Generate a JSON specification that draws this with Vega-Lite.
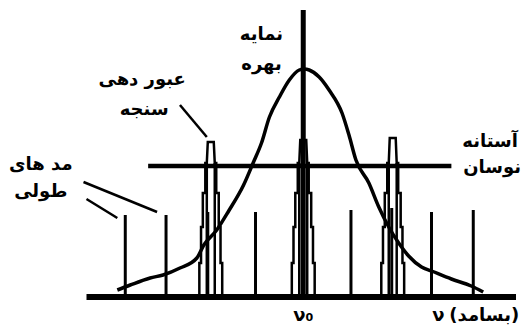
{
  "$schema": "https://vega.github.io/schema/vega-lite/v6.json",
  "width": 521,
  "height": 327,
  "autosize": {"type": "fit", "contains": "padding"},
  "padding": 0,
  "background": "white",
  "config": {"view": {"stroke": null}},
  "datasets": {
    "gain": [
      {"x": -187, "y": 7}, {"x": -174, "y": 12}, {"x": -154, "y": 19}, {"x": -141, "y": 22},
      {"x": -124, "y": 29}, {"x": -107, "y": 39}, {"x": -100, "y": 52}, {"x": -87, "y": 67},
      {"x": -75, "y": 86}, {"x": -60, "y": 112}, {"x": -50, "y": 135}, {"x": -42, "y": 154},
      {"x": -34, "y": 180}, {"x": -24, "y": 200}, {"x": -14, "y": 217}, {"x": -4, "y": 227},
      {"x": 1, "y": 228}, {"x": 6, "y": 227}, {"x": 16, "y": 220}, {"x": 26, "y": 207},
      {"x": 39, "y": 184}, {"x": 46, "y": 162}, {"x": 53, "y": 137}, {"x": 66, "y": 114},
      {"x": 76, "y": 90}, {"x": 86, "y": 70}, {"x": 96, "y": 54}, {"x": 106, "y": 41},
      {"x": 119, "y": 30}, {"x": 129, "y": 26}, {"x": 149, "y": 18}, {"x": 169, "y": 11},
      {"x": 181, "y": 5}
    ],
    "peaks": [
      {"p": "L", "o": 1, "x": -104.5, "y": 0}, {"p": "L", "o": 2, "x": -104.5, "y": 34},
      {"p": "L", "o": 3, "x": -102.8, "y": 34}, {"p": "L", "o": 4, "x": -102.8, "y": 70},
      {"p": "L", "o": 5, "x": -101, "y": 70}, {"p": "L", "o": 6, "x": -101, "y": 104},
      {"p": "L", "o": 7, "x": -98.5, "y": 104}, {"p": "L", "o": 8, "x": -98.5, "y": 134},
      {"p": "L", "o": 9, "x": -97, "y": 134}, {"p": "L", "o": 10, "x": -96, "y": 155},
      {"p": "L", "o": 11, "x": -90, "y": 155}, {"p": "L", "o": 12, "x": -89, "y": 134},
      {"p": "L", "o": 13, "x": -87.5, "y": 134}, {"p": "L", "o": 14, "x": -87.5, "y": 104},
      {"p": "L", "o": 15, "x": -85, "y": 104}, {"p": "L", "o": 16, "x": -85, "y": 70},
      {"p": "L", "o": 17, "x": -83.2, "y": 70}, {"p": "L", "o": 18, "x": -83.2, "y": 34},
      {"p": "L", "o": 19, "x": -81.5, "y": 34}, {"p": "L", "o": 20, "x": -81.5, "y": 0},
      {"p": "C", "o": 1, "x": -11.5, "y": 0}, {"p": "C", "o": 2, "x": -11.5, "y": 34},
      {"p": "C", "o": 3, "x": -9.8, "y": 34}, {"p": "C", "o": 4, "x": -9.8, "y": 70},
      {"p": "C", "o": 5, "x": -8, "y": 70}, {"p": "C", "o": 6, "x": -8, "y": 104},
      {"p": "C", "o": 7, "x": -5.5, "y": 104}, {"p": "C", "o": 8, "x": -5.5, "y": 134},
      {"p": "C", "o": 9, "x": -4, "y": 134}, {"p": "C", "o": 10, "x": -3, "y": 157},
      {"p": "C", "o": 11, "x": 3, "y": 157}, {"p": "C", "o": 12, "x": 4, "y": 134},
      {"p": "C", "o": 13, "x": 5.5, "y": 134}, {"p": "C", "o": 14, "x": 5.5, "y": 104},
      {"p": "C", "o": 15, "x": 8, "y": 104}, {"p": "C", "o": 16, "x": 8, "y": 70},
      {"p": "C", "o": 17, "x": 9.8, "y": 70}, {"p": "C", "o": 18, "x": 9.8, "y": 34},
      {"p": "C", "o": 19, "x": 11.5, "y": 34}, {"p": "C", "o": 20, "x": 11.5, "y": 0},
      {"p": "R", "o": 1, "x": 78.5, "y": 0}, {"p": "R", "o": 2, "x": 78.5, "y": 34},
      {"p": "R", "o": 3, "x": 80.2, "y": 34}, {"p": "R", "o": 4, "x": 80.2, "y": 70},
      {"p": "R", "o": 5, "x": 82, "y": 70}, {"p": "R", "o": 6, "x": 82, "y": 104},
      {"p": "R", "o": 7, "x": 84.5, "y": 104}, {"p": "R", "o": 8, "x": 84.5, "y": 134},
      {"p": "R", "o": 9, "x": 86, "y": 134}, {"p": "R", "o": 10, "x": 87, "y": 159},
      {"p": "R", "o": 11, "x": 93, "y": 159}, {"p": "R", "o": 12, "x": 94, "y": 134},
      {"p": "R", "o": 13, "x": 95.5, "y": 134}, {"p": "R", "o": 14, "x": 95.5, "y": 104},
      {"p": "R", "o": 15, "x": 98, "y": 104}, {"p": "R", "o": 16, "x": 98, "y": 70},
      {"p": "R", "o": 17, "x": 99.8, "y": 70}, {"p": "R", "o": 18, "x": 99.8, "y": 34},
      {"p": "R", "o": 19, "x": 101.5, "y": 34}, {"p": "R", "o": 20, "x": 101.5, "y": 0}
    ],
    "lines": [
      {"kind": "base", "x": -218, "x2": 214, "y": 0, "y2": 0},
      {"kind": "threshold", "x": -156, "x2": 149, "y": 131, "y2": 131},
      {"kind": "center", "x": 0, "x2": 0, "y": 0, "y2": 287},
      {"kind": "mode", "x": -179, "x2": -179, "y": 0, "y2": 82},
      {"kind": "mode", "x": -138, "x2": -138, "y": 0, "y2": 82},
      {"kind": "mode", "x": -96, "x2": -96, "y": 0, "y2": 85},
      {"kind": "mode", "x": -48, "x2": -48, "y": 0, "y2": 85},
      {"kind": "mode", "x": 48, "x2": 48, "y": 0, "y2": 87},
      {"kind": "mode", "x": 89, "x2": 89, "y": 0, "y2": 89},
      {"kind": "mode", "x": 129, "x2": 129, "y": 0, "y2": 85},
      {"kind": "mode", "x": 171, "x2": 171, "y": 0, "y2": 87},
      {"kind": "inner", "x": -97, "x2": -97, "y": 0, "y2": 134},
      {"kind": "inner", "x": -89, "x2": -89, "y": 0, "y2": 134},
      {"kind": "inner", "x": -4, "x2": -4, "y": 0, "y2": 134},
      {"kind": "inner", "x": 4, "x2": 4, "y": 0, "y2": 134},
      {"kind": "inner", "x": 86, "x2": 86, "y": 0, "y2": 134},
      {"kind": "inner", "x": 94, "x2": 94, "y": 0, "y2": 134},
      {"kind": "leader", "x": -124, "x2": -97, "y": 192, "y2": 160},
      {"kind": "leader", "x": -221, "x2": -147, "y": 115, "y2": 85},
      {"kind": "leader", "x": -218, "x2": -187, "y": 98, "y2": 79}
    ],
    "labels": [
      {"t": "نمایه", "x": -42, "y": 262},
      {"t": "بهره", "x": -42, "y": 232},
      {"t": "عبور دهی", "x": -162, "y": 217},
      {"t": "سنجه", "x": -160, "y": 187},
      {"t": "مد های", "x": -264, "y": 132},
      {"t": "طولی", "x": -264, "y": 105},
      {"t": "آستانه", "x": 188, "y": 155},
      {"t": "نوسان", "x": 190, "y": 129},
      {"t": "ν₀", "x": 0, "y": -19},
      {"t": "ν", "x": 136, "y": -19},
      {"t": "(بسامد)", "x": 182, "y": -19}
    ]
  },
  "encoding": {
    "x": {"field": "x", "type": "quantitative", "scale": {"domain": [-305, 216], "nice": false, "zero": false}, "axis": null},
    "y": {"field": "y", "type": "quantitative", "scale": {"domain": [-30, 297], "nice": false, "zero": false}, "axis": null}
  },
  "layer": [
    {
      "data": {"name": "lines"},
      "transform": [{"filter": "datum.kind == 'mode'"}],
      "mark": {"type": "rule", "color": "black", "strokeWidth": 3},
      "encoding": {"x2": {"field": "x2"}, "y2": {"field": "y2"}}
    },
    {
      "data": {"name": "lines"},
      "transform": [{"filter": "datum.kind == 'inner'"}],
      "mark": {"type": "rule", "color": "black", "strokeWidth": 2.5},
      "encoding": {"x2": {"field": "x2"}, "y2": {"field": "y2"}}
    },
    {
      "data": {"name": "peaks"},
      "mark": {"type": "line", "color": "black", "strokeWidth": 2.5, "strokeJoin": "miter"},
      "encoding": {"detail": {"field": "p"}, "order": {"field": "o", "type": "quantitative"}}
    },
    {
      "data": {"name": "gain"},
      "mark": {"type": "line", "color": "black", "strokeWidth": 3.5, "interpolate": "monotone"},
      "encoding": {}
    },
    {
      "data": {"name": "lines"},
      "transform": [{"filter": "datum.kind == 'leader'"}],
      "mark": {"type": "rule", "color": "black", "strokeWidth": 2.5},
      "encoding": {"x2": {"field": "x2"}, "y2": {"field": "y2"}}
    },
    {
      "data": {"name": "lines"},
      "transform": [{"filter": "datum.kind == 'threshold'"}],
      "mark": {"type": "rule", "color": "black", "strokeWidth": 4.5},
      "encoding": {"x2": {"field": "x2"}, "y2": {"field": "y2"}}
    },
    {
      "data": {"name": "lines"},
      "transform": [{"filter": "datum.kind == 'center'"}],
      "mark": {"type": "rule", "color": "black", "strokeWidth": 5},
      "encoding": {"x2": {"field": "x2"}, "y2": {"field": "y2"}}
    },
    {
      "data": {"name": "lines"},
      "transform": [{"filter": "datum.kind == 'base'"}],
      "mark": {"type": "rule", "color": "black", "strokeWidth": 6},
      "encoding": {"x2": {"field": "x2"}, "y2": {"field": "y2"}}
    },
    {
      "data": {"name": "labels"},
      "mark": {"type": "text", "font": "DejaVu Sans", "fontSize": 18, "fontWeight": "bold", "color": "black", "align": "center", "baseline": "middle"},
      "encoding": {"text": {"field": "t"}}
    }
  ]
}
